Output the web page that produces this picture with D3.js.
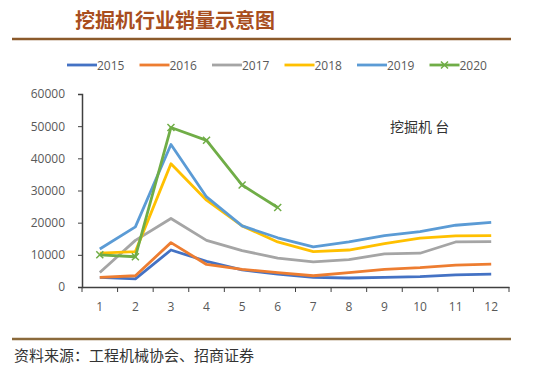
<!DOCTYPE html>
<html>
<head>
<meta charset="utf-8">
<script src="https://cdn.jsdelivr.net/npm/d3@7/dist/d3.min.js"></script>
<style>
  body { margin: 0; background: #fff; }
  text { font-family: "Open Sans", "Noto Sans CJK SC", sans-serif; }
</style>
</head>
<body>
<div id="chart"></div>
<script>
// months on the x axis
var months = [1, 2, 3, 4, 5, 6, 7, 8, 9, 10, 11, 12];
var yTicks = [0, 10000, 20000, 30000, 40000, 50000, 60000];

// monthly excavator sales per year
var s2015 = [3000, 2500, 11500, 8000, 5300, 4000, 3000, 2800, 3000, 3200, 3800, 4000];
var s2016 = [3000, 3500, 13800, 7000, 5500, 4500, 3500, 4500, 5500, 6000, 6800, 7100];
var s2017 = [4500, 14500, 21300, 14500, 11300, 9000, 7800, 8500, 10300, 10500, 14000, 14100];
var s2018 = [10500, 11000, 38300, 27000, 19000, 14000, 11000, 11500, 13500, 15200, 15900, 16000];
var s2019 = [11800, 18700, 44300, 28000, 19000, 15300, 12500, 14000, 16000, 17200, 19200, 20100];
var s2020 = [10000, 9400, 49600, 45600, 31700, 24700];

var series = [
    {name: "2015", values: s2015, colour: "#4472C4", marker: false},
    {name: "2016", values: s2016, colour: "#ED7D31", marker: false},
    {name: "2017", values: s2017, colour: "#A5A5A5", marker: false},
    {name: "2018", values: s2018, colour: "#FFC000", marker: false},
    {name: "2019", values: s2019, colour: "#5B9BD5", marker: false},
    {name: "2020", values: s2020, colour: "#70AD47", marker: true}
];

var svg = d3.select("#chart")
    .append("svg")
    .attr("width", 550)
    .attr("height", 377);

// title and rules
svg.append("text")
    .attr("x", 75)
    .attr("y", 28)
    .attr("fill", "#A84E1E")
    .attr("font-size", 20)
    .attr("font-weight", "bold")
    .style("font-family", "'Noto Sans CJK SC', sans-serif")
    .text("挖掘机行业销量示意图");

svg.append("line")
    .attr("x1", 12).attr("x2", 511)
    .attr("y1", 39).attr("y2", 39)
    .attr("stroke", "#8B5A2B")
    .attr("stroke-width", 2.5);

svg.append("line")
    .attr("x1", 12).attr("x2", 511)
    .attr("y1", 339).attr("y2", 339)
    .attr("stroke", "#8B6A3B")
    .attr("stroke-width", 2.5);

svg.append("text")
    .attr("x", 14)
    .attr("y", 361)
    .attr("fill", "#333")
    .attr("font-size", 15)
    .style("font-family", "'Noto Sans CJK SC', serif")
    .text("资料来源：工程机械协会、招商证券");

// scales
var x = d3.scaleBand()
    .domain(months)
    .range([82, 509]);

var y = d3.scaleLinear()
    .domain([0, 60000])
    .range([287, 94]);

// x axis
var xAxis = svg.append("g")
    .attr("transform", "translate(0,287)")
    .call(d3.axisBottom(x).tickSize(0).tickPadding(15));
xAxis.select(".domain").attr("stroke", "#404040").attr("stroke-width", 1.5);
xAxis.selectAll("text").attr("fill", "#595959").attr("font-size", 12);

// tick marks between categories
svg.append("g").selectAll("line")
    .data(d3.range(months.length + 1))
    .enter()
    .append("line")
    .attr("x1", function (d) { return 82 + d * x.step(); })
    .attr("x2", function (d) { return 82 + d * x.step(); })
    .attr("y1", 287)
    .attr("y2", 292)
    .attr("stroke", "#404040");

// y axis
var yAxis = svg.append("g")
    .attr("transform", "translate(82,0)")
    .call(d3.axisLeft(y).tickValues(yTicks).tickFormat(d3.format("d")).tickSize(4).tickPadding(13));
yAxis.select(".domain").attr("stroke", "#404040").attr("stroke-width", 1.5);
yAxis.selectAll(".tick line").attr("stroke", "#404040");
yAxis.selectAll("text").attr("fill", "#595959").attr("font-size", 12);

// lines
var lineGenerator = d3.line()
    .x(function (d, i) { return x(months[i]) + x.bandwidth() / 2; })
    .y(function (d) { return y(d); });

svg.append("g").selectAll("path")
    .data(series)
    .enter()
    .append("path")
    .attr("d", function (d) { return lineGenerator(d.values); })
    .attr("fill", "none")
    .attr("stroke", function (d) { return d.colour; })
    .attr("stroke-width", 2.8)
    .attr("stroke-linejoin", "round");

// x markers for 2020
var crossSize = 3.5;
var markerData = [];
series.filter(function (d) { return d.marker; }).forEach(function (s) {
    s.values.forEach(function (v, i) {
        markerData.push({cx: x(months[i]) + x.bandwidth() / 2, cy: y(v), colour: s.colour});
    });
});
svg.append("g").selectAll("path")
    .data(markerData)
    .enter()
    .append("path")
    .attr("d", function (d) {
        return "M" + (d.cx - crossSize) + "," + (d.cy - crossSize) + "L" + (d.cx + crossSize) + "," + (d.cy + crossSize) +
               "M" + (d.cx - crossSize) + "," + (d.cy + crossSize) + "L" + (d.cx + crossSize) + "," + (d.cy - crossSize);
    })
    .attr("stroke", function (d) { return d.colour; })
    .attr("stroke-width", 1.5);

// legend
var legend = svg.append("g").selectAll("g")
    .data(series)
    .enter()
    .append("g")
    .attr("transform", function (d, i) { return "translate(" + (67 + i * 72.5) + ",65)"; });

legend.append("line")
    .attr("x1", 0).attr("x2", 30)
    .attr("y1", 0).attr("y2", 0)
    .attr("stroke", function (d) { return d.colour; })
    .attr("stroke-width", 2.8);

legend.filter(function (d) { return d.marker; })
    .append("path")
    .attr("d", "M11.5,-3.5L18.5,3.5M11.5,3.5L18.5,-3.5")
    .attr("stroke", function (d) { return d.colour; })
    .attr("stroke-width", 1.5);

legend.append("text")
    .attr("x", 30)
    .attr("y", 4.5)
    .attr("fill", "#595959")
    .attr("font-size", 12)
    .text(function (d) { return d.name; });

// unit label
svg.append("text")
    .attr("x", 390)
    .attr("y", 132)
    .attr("fill", "#333")
    .attr("font-size", 14)
    .style("font-family", "'Noto Sans CJK SC', sans-serif")
    .text("挖掘机 台");
</script>
</body>
</html>
